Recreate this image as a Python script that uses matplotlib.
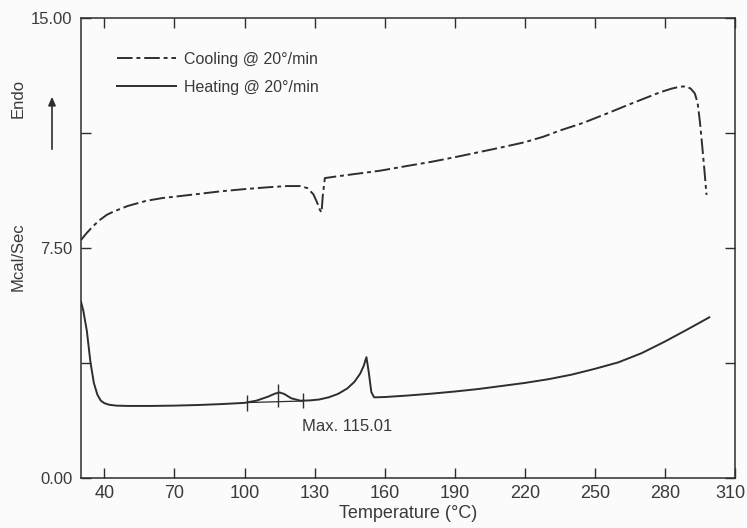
import matplotlib
matplotlib.use("Agg")
import matplotlib.pyplot as plt
from matplotlib.ticker import FixedLocator, FixedFormatter
from matplotlib.transforms import ScaledTranslation

# ---------------- data ----------------
cool_T = [30, 32, 35, 38, 41, 44, 50, 58, 65, 72, 80, 90, 100, 110, 118, 124, 127,
          129.5, 131, 132.3, 133, 133.5, 134.4, 140, 150, 158, 170, 180, 190, 200,
          210, 220, 228, 235, 245, 255, 264, 272, 278, 283, 286.5, 289, 291, 292.8,
          294, 295, 296, 297, 297.8]
cool_V = [7.76, 7.95, 8.2, 8.41, 8.58, 8.69, 8.87, 9.04, 9.13, 9.19, 9.26, 9.35, 9.42,
          9.48, 9.52, 9.52, 9.45, 9.25, 9.0, 8.74, 8.66, 9.2, 9.78, 9.84, 9.94, 10.02,
          10.18, 10.31, 10.46, 10.62, 10.78, 10.95, 11.13, 11.33, 11.58, 11.88, 12.16,
          12.4, 12.58, 12.7, 12.76, 12.77, 12.7, 12.54, 12.23, 11.6, 10.8, 9.95, 9.23]

heat_T = [30, 31, 32.5, 34, 35.5, 37, 38.5, 40, 42, 45, 50, 60, 70, 80, 90, 100, 105,
          110, 113, 115, 117, 120, 124, 128, 132, 136, 140, 144, 147, 149.5, 151,
          152.2, 153.2, 154.3, 155.5, 160, 170, 180, 190, 200, 210, 220, 230, 240,
          250, 260, 270, 280, 290, 299]
heat_V = [5.75, 5.45, 4.8, 3.8, 3.1, 2.72, 2.52, 2.44, 2.39, 2.36, 2.35, 2.35, 2.36,
          2.38, 2.41, 2.45, 2.52, 2.65, 2.75, 2.79, 2.74, 2.6, 2.52, 2.53, 2.56, 2.63,
          2.74, 2.92, 3.13, 3.4, 3.65, 3.94, 3.45, 2.8, 2.63, 2.64, 2.69, 2.75, 2.82,
          2.9, 3.0, 3.1, 3.22, 3.37, 3.56, 3.77, 4.07, 4.45, 4.86, 5.24]

# peak integration markers
mark_T = [101, 114.5, 124.9]
mark_lo = [2.17, 2.32, 2.28]
mark_hi = [2.71, 3.06, 2.77]
base_T = [101, 124.9]
base_V = [2.46, 2.51]

x_ticks = [40, 70, 100, 130, 160, 190, 220, 250, 280, 310]
y_ticks = [0, 3.75, 7.5, 11.25, 15]
y_labels = ["0.00", "", "7.50", "", "15.00"]

labels = ["Cooling @ 20°/min", "Heating @ 20°/min"]
annot = "Max. 115.01"

# ---------------- figure ----------------
ink = "#2e2e2e"
txt = "#3a3a3a"
plt.rcParams['font.family'] = ['Liberation Sans', 'DejaVu Sans']

fig = plt.figure(figsize=(7.47, 5.28), dpi=100)
fig.patch.set_facecolor("#fbfbfb")
ax = fig.add_axes([81/747, 1 - 478/528, 654/747, 460/528])
ax.set_facecolor("#fbfbfb")

ax.plot(cool_T, cool_V, color=ink, lw=1.4, dashes=(8, 2, 2, 2), label=labels[0])
ax.plot(heat_T, heat_V, color=ink, lw=1.4, label=labels[1])
ax.vlines(mark_T, mark_lo, mark_hi, color=ink, lw=1.0)
ax.plot(base_T, base_V, color=ink, lw=0.9)
ax.text(124.5, 1.67, annot, fontsize=12, color=txt, va="center", ha="left")

ax.set_xlim(30, 310)
ax.set_ylim(0, 15)

ax.xaxis.set_major_locator(FixedLocator(x_ticks))
ax.yaxis.set_major_locator(FixedLocator(y_ticks))
ax.yaxis.set_major_formatter(FixedFormatter(y_labels))
ax.tick_params(axis="both", direction="in", length=7, width=1.0, color=ink,
               top=True, right=True, labelcolor=txt)
ax.tick_params(axis="y", labelsize=12, pad=6)
ax.tick_params(axis="x", labelsize=13, pad=5)

for s in ax.spines.values():
    s.set_color(ink)
    s.set_linewidth(1.1)

ax.set_xlabel("Temperature (°C)", fontsize=13, color=txt, labelpad=2)

# nudge the last x tick label inward so it stays on the canvas
fig.canvas.draw()
last = ax.xaxis.get_major_ticks()[-1].label1
last.set_transform(last.get_transform() + ScaledTranslation(-3.5/72, 0, fig.dpi_scale_trans))

fig.text(18/747, 1 - 257/528, "Mcal/Sec", rotation=90, fontsize=12, color=txt,
         ha="center", va="center")
fig.text(18/747, 1 - 98/528, "Endo", rotation=90, fontsize=12, color=txt,
         ha="center", va="center")
fig.add_artist(matplotlib.patches.FancyArrowPatch(
    (52/747, 1 - 152/528), (52/747, 1 - 94/528), transform=fig.transFigure,
    arrowstyle="-|>,head_length=5,head_width=2.2", color=ink, lw=1.2,
    mutation_scale=1))

leg = ax.legend(loc="upper left", bbox_to_anchor=(0.045, 0.94), frameon=False,
                fontsize=11.5, handlelength=3.7, handletextpad=0.5,
                labelspacing=0.8, borderaxespad=0)
for t in leg.get_texts():
    t.set_color(txt)

fig.savefig("out.png", dpi=100, facecolor=fig.get_facecolor())
